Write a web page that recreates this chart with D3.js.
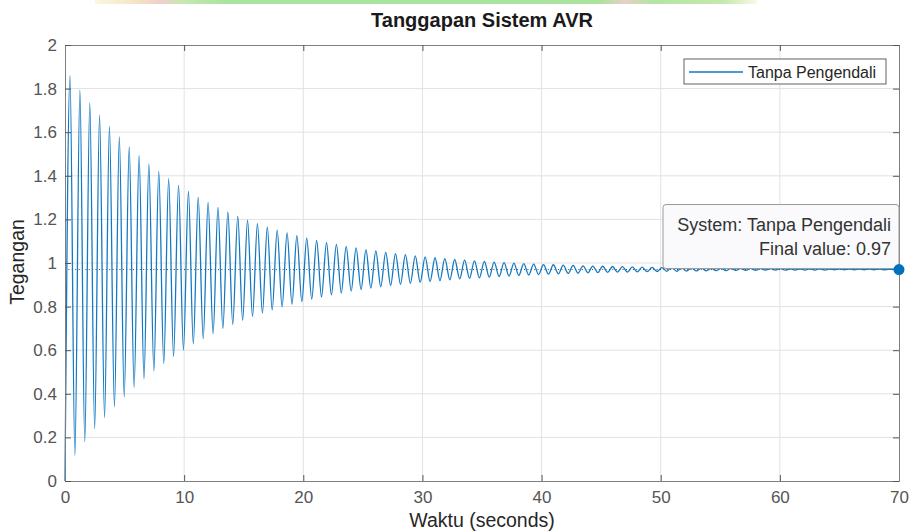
<!DOCTYPE html>
<html>
<head>
<meta charset="utf-8">
<script src="https://cdn.jsdelivr.net/npm/d3@7"></script>
<style>
  body { margin: 0; background: #fff; }
  svg { display: block; font-family: "Liberation Sans", Arial, Helvetica, sans-serif; }
</style>
</head>
<body>
<svg id="chart" width="913" height="532"></svg>
<script>
// step response values (extrema of the oscillation)
var startTime = 0, startValue = 0;
var finalTime = 70, finalValue = 0.97;

var peakTimes = [0.42, 1.25, 2.08, 2.90, 3.73, 4.56, 5.39, 6.22, 7.04, 7.87,
  8.70, 9.53, 10.36, 11.18, 12.01, 12.84, 13.67, 14.50, 15.32, 16.15,
  16.98, 17.81, 18.64, 19.46, 20.29, 21.12, 21.95, 22.78, 23.60, 24.43,
  25.26, 26.09, 26.92, 27.74, 28.57, 29.40, 30.23, 31.06, 31.88, 32.71,
  33.54, 34.37, 35.20, 36.02, 36.85, 37.68, 38.51, 39.34, 40.16, 40.99,
  41.82, 42.65, 43.48, 44.30, 45.13, 45.96, 46.79, 47.62, 48.44, 49.27,
  50.10, 50.93, 51.76, 52.58, 53.41, 54.24, 55.07, 55.90, 56.72, 57.55,
  58.38, 59.21, 60.04, 60.86, 61.69, 62.52, 63.35, 64.18, 65.00, 65.83,
  66.66, 67.49, 68.32, 69.14, 69.97];
var peakValues = [1.859, 1.794, 1.734, 1.678, 1.627, 1.579, 1.534, 1.493, 1.455, 1.420,
  1.387, 1.356, 1.328, 1.302, 1.278, 1.255, 1.234, 1.215, 1.197, 1.181,
  1.165, 1.151, 1.138, 1.125, 1.114, 1.104, 1.094, 1.085, 1.076, 1.069,
  1.061, 1.055, 1.049, 1.043, 1.038, 1.033, 1.028, 1.024, 1.020, 1.016,
  1.013, 1.010, 1.007, 1.004, 1.002, 0.999, 0.997, 0.995, 0.993, 0.992,
  0.990, 0.989, 0.987, 0.986, 0.985, 0.984, 0.983, 0.982, 0.981, 0.980,
  0.979, 0.979, 0.978, 0.977, 0.977, 0.976, 0.976, 0.975, 0.975, 0.975,
  0.974, 0.974, 0.974, 0.973, 0.973, 0.973, 0.973, 0.972, 0.972, 0.972,
  0.972, 0.972, 0.972, 0.971, 0.971];

var troughTimes = [0.83, 1.66, 2.49, 3.32, 4.15, 4.97, 5.80, 6.63, 7.46, 8.29,
  9.11, 9.94, 10.77, 11.60, 12.43, 13.25, 14.08, 14.91, 15.74, 16.57,
  17.39, 18.22, 19.05, 19.88, 20.71, 21.53, 22.36, 23.19, 24.02, 24.85,
  25.67, 26.50, 27.33, 28.16, 28.99, 29.81, 30.64, 31.47, 32.30, 33.13,
  33.95, 34.78, 35.61, 36.44, 37.27, 38.09, 38.92, 39.75, 40.58, 41.41,
  42.23, 43.06, 43.89, 44.72, 45.55, 46.37, 47.20, 48.03, 48.86, 49.69,
  50.51, 51.34, 52.17, 53.00, 53.83, 54.65, 55.48, 56.31, 57.14, 57.97,
  58.79, 59.62, 60.45, 61.28, 62.11, 62.93, 63.76, 64.59, 65.42, 66.25,
  67.07, 67.90, 68.73, 69.56];
var troughValues = [0.117, 0.180, 0.240, 0.291, 0.340, 0.386, 0.429, 0.469, 0.505, 0.539,
  0.571, 0.601, 0.629, 0.653, 0.676, 0.699, 0.718, 0.737, 0.754, 0.770,
  0.785, 0.799, 0.811, 0.823, 0.834, 0.844, 0.854, 0.862, 0.871, 0.878,
  0.885, 0.891, 0.897, 0.902, 0.907, 0.911, 0.915, 0.919, 0.923, 0.927,
  0.930, 0.932, 0.935, 0.938, 0.940, 0.943, 0.945, 0.947, 0.949, 0.950,
  0.952, 0.953, 0.955, 0.956, 0.957, 0.958, 0.958, 0.959, 0.960, 0.961,
  0.962, 0.962, 0.963, 0.964, 0.964, 0.965, 0.965, 0.966, 0.966, 0.966,
  0.967, 0.967, 0.967, 0.968, 0.968, 0.968, 0.968, 0.969, 0.969, 0.969,
  0.969, 0.969, 0.969, 0.970];

var xTicks = [0, 10, 20, 30, 40, 50, 60, 70];
var yTicks = [0, 0.2, 0.4, 0.6, 0.8, 1, 1.2, 1.4, 1.6, 1.8, 2];
var yTickLabels = ['0', '0.2', '0.4', '0.6', '0.8', '1', '1.2', '1.4', '1.6', '1.8', '2'];

var seriesName = 'Tanpa Pengendali';

// build the point table
var points = [{t: startTime, v: startValue}];
peakTimes.forEach(function (t, i) { points.push({t: t, v: peakValues[i]}); });
troughTimes.forEach(function (t, i) { points.push({t: t, v: troughValues[i]}); });
points.push({t: finalTime, v: finalValue});
points.sort(function (a, b) { return a.t - b.t; });

var svg = d3.select('#chart');
var plotL = 65, plotR = 899, plotT = 45, plotB = 481;

var x = d3.scaleLinear().domain([0, 70]).range([plotL, plotR]);
var y = d3.scaleLinear().domain([0, 2]).range([plotB, plotT]);

// faint band on top edge of the screenshot
var grad = svg.append('defs').append('linearGradient').attr('id', 'band');
[[0, '#fbf7e4'], [0.06, '#f3e6c4'], [0.1, '#efcfca'], [0.13, '#c9e7b4'], [0.2, '#a9e39d'],
 [0.76, '#a9e39d'], [0.8, '#e9cfc8'], [0.84, '#b3e5a5'], [0.95, '#c6e8ad'], [1, '#fbf8e8']]
  .forEach(function (s) { grad.append('stop').attr('offset', s[0]).attr('stop-color', s[1]); });
svg.append('rect').attr('x', 95).attr('y', 0).attr('width', 662).attr('height', 4)
  .attr('fill', 'url(#band)');

// grid
svg.append('g').selectAll('line').data(xTicks.slice(1, -1)).enter().append('line')
  .attr('x1', function (d) { return x(d); }).attr('x2', function (d) { return x(d); })
  .attr('y1', plotT).attr('y2', plotB)
  .attr('stroke', '#e2e2e2').attr('stroke-width', 1);
svg.append('g').selectAll('line').data(yTicks.slice(1, -1)).enter().append('line')
  .attr('y1', function (d) { return y(d); }).attr('y2', function (d) { return y(d); })
  .attr('x1', plotL).attr('x2', plotR)
  .attr('stroke', '#e2e2e2').attr('stroke-width', 1);

// final value reference line
svg.append('line')
  .attr('x1', x(0)).attr('x2', x(70))
  .attr('y1', y(finalValue)).attr('y2', y(finalValue))
  .attr('stroke', '#444').attr('stroke-width', 1).attr('stroke-dasharray', '1,2.4');

// response curve
var line = d3.line()
  .x(function (d) { return x(d.t); })
  .y(function (d) { return y(d.v); })
  .curve(d3.curveMonotoneX);
svg.append('path').datum(points)
  .attr('d', line)
  .attr('fill', 'none')
  .attr('stroke', '#1479c2')
  .attr('stroke-width', 1.3);

// axes (ticks pointing inward, box on)
function styleAxis(g) {
  g.selectAll('.domain').attr('stroke', '#7f7f7f');
  g.selectAll('.tick line').attr('stroke', '#555');
  g.selectAll('.tick text').attr('fill', '#555').style('font-size', '17px')
    .style('font-family', '"Liberation Sans", Arial, sans-serif');
}
svg.append('g').attr('transform', 'translate(0,' + plotB + ')')
  .call(d3.axisBottom(x).tickValues(xTicks).tickSize(-6).tickSizeOuter(0).tickPadding(10))
  .call(styleAxis);
svg.append('g').attr('transform', 'translate(0,' + plotT + ')')
  .call(d3.axisTop(x).tickValues(xTicks).tickSize(-6).tickSizeOuter(0).tickFormat(''))
  .call(styleAxis);
svg.append('g').attr('transform', 'translate(' + plotL + ',0)')
  .call(d3.axisLeft(y).tickValues(yTicks).tickSize(-6).tickSizeOuter(0).tickPadding(8)
    .tickFormat(function (d, i) { return yTickLabels[i]; }))
  .call(styleAxis);
svg.append('g').attr('transform', 'translate(' + plotR + ',0)')
  .call(d3.axisRight(y).tickValues(yTicks).tickSize(-6).tickSizeOuter(0).tickFormat(''))
  .call(styleAxis);

// titles
svg.append('text').attr('x', (plotL + plotR) / 2).attr('y', 27)
  .attr('text-anchor', 'middle').attr('fill', '#1a1a1a')
  .style('font-size', '20px').style('font-weight', 'bold')
  .text('Tanggapan Sistem AVR');
svg.append('text').attr('x', (plotL + plotR) / 2).attr('y', 527)
  .attr('text-anchor', 'middle').attr('fill', '#262626')
  .style('font-size', '19.5px')
  .text('Waktu (seconds)');
svg.append('text').attr('transform', 'translate(24,' + ((plotT + plotB) / 2 - 1) + ') rotate(-90)')
  .attr('text-anchor', 'middle').attr('fill', '#262626')
  .style('font-size', '19.5px')
  .text('Tegangan');

// legend
var lg = svg.append('g');
lg.append('rect').attr('x', 684).attr('y', 59).attr('width', 202).attr('height', 25)
  .attr('fill', '#fff').attr('stroke', '#3a3a3a').attr('stroke-width', 0.8);
lg.append('line').attr('x1', 689).attr('x2', 743).attr('y1', 72).attr('y2', 72)
  .attr('stroke', '#1479c2').attr('stroke-width', 1.3);
lg.append('text').attr('x', 748).attr('y', 77.5).attr('fill', '#262626')
  .style('font-size', '16px').text(seriesName);

// data tip at the final value
var mx = x(finalTime), my = y(finalValue);
var tip = svg.append('g');
tip.append('rect').attr('x', mx - 236).attr('y', my - 65).attr('width', 236).attr('height', 64)
  .attr('rx', 3).attr('fill', '#fafafc').attr('stroke', '#9a9a9a').attr('stroke-width', 1);
tip.append('text').attr('x', mx - 8).attr('y', my - 39).attr('text-anchor', 'end')
  .attr('fill', '#333').style('font-size', '18px').text('System: ' + seriesName);
tip.append('text').attr('x', mx - 8).attr('y', my - 15).attr('text-anchor', 'end')
  .attr('fill', '#333').style('font-size', '18px').text('Final value: ' + finalValue);
svg.append('circle').attr('cx', mx).attr('cy', my).attr('r', 5.5).attr('fill', '#0072BD');
</script>
</body>
</html>
